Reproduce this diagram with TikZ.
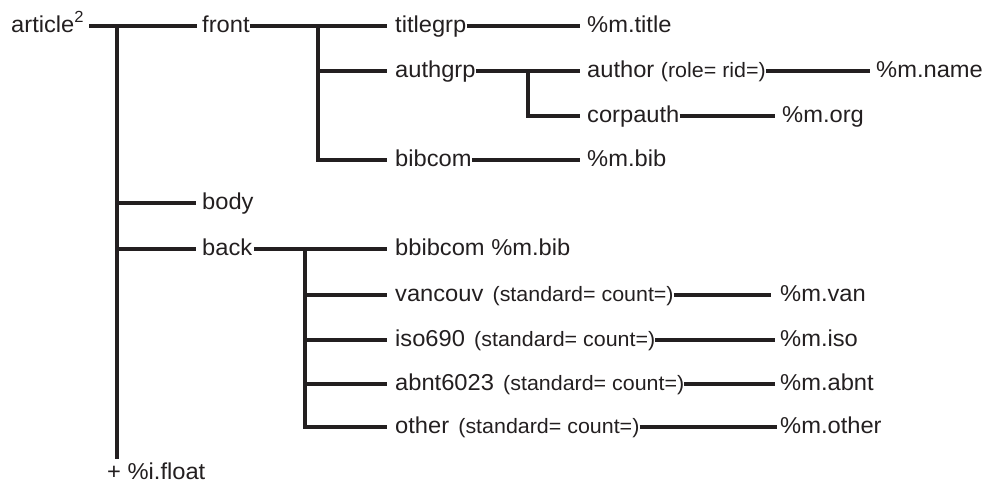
\documentclass[tikz,border=0pt]{standalone}
\usepackage{fontspec}
\setmainfont{Liberation Sans}[FakeStretch=1.03]
\definecolor{ink}{RGB}{35,31,32}
\newcommand{\attr}[1]{{\fontsize{20.8}{24}\selectfont #1}}
\begin{document}
\begin{tikzpicture}[x=1pt,y=-1pt,
  lbl/.style={anchor=west, inner sep=0pt, text height=16.5pt, text depth=4.5pt, font=\fontsize{23}{27}\selectfont, text=ink},
  link/.style={line width=3.2pt, draw=ink},
  heavy/.style={line width=4.6pt, draw=ink}]
\useasboundingbox (0,0) rectangle (982,483);
% nodes
\node[lbl] (article) at (11,26) {article\textsuperscript{2}};
\node[lbl] (front) at (202,26) {front};
\node[lbl] (body) at (202,203) {body};
\node[lbl] (back) at (202,249) {back};
\node[lbl] (float) at (107,473) {+ \%i.float};
\node[lbl] (titlegrp) at (395,26) {titlegrp};
\node[lbl] (mtitle) at (587,26) {\%m.title};
\node[lbl] (authgrp) at (395,71) {authgrp};
\node[lbl] (author) at (587,71) {author \attr{(role= rid=)}};
\node[lbl] (mname) at (876,71) {\%m.name};
\node[lbl] (corpauth) at (587,116) {corpauth};
\node[lbl] (morg) at (782,116) {\%m.org};
\node[lbl] (bibcom) at (395,160) {bibcom};
\node[lbl] (mbib) at (587,160) {\%m.bib};
\node[lbl] (bbibcom) at (395,249) {bbibcom \%m.bib};
\node[lbl] (vancouv) at (395,295) {vancouv\hspace{0.4em}\attr{(standard= count=)}};
\node[lbl] (mvan) at (780,295) {\%m.van};
\node[lbl] (iso) at (395,340) {iso690\hspace{0.4em}\attr{(standard= count=)}};
\node[lbl] (miso) at (780,340) {\%m.iso};
\node[lbl] (abnt) at (395,384) {abnt6023\hspace{0.4em}\attr{(standard= count=)}};
\node[lbl] (mabnt) at (780,384) {\%m.abnt};
\node[lbl] (other) at (395,427) {other\hspace{0.4em}\attr{(standard= count=)}};
\node[lbl] (mother) at (780,427) {\%m.other};
% junctions
\coordinate (j0) at (117,26);
\coordinate (j1) at (318,26);
\coordinate (j2) at (528,71);
\coordinate (j3) at (305,249);
% root
\draw[link, shorten <=5pt, shorten >=5pt] (article.east) -- (front.west);
\draw[heavy, shorten >=3pt] (j0) -- (j0 |- float.north);
\draw[link, shorten >=6pt] (j0) |- (body.west);
\draw[heavy, shorten >=6pt] (j0) |- (back.west);
% front
\draw[link, shorten >=8pt] (front.east) -- (titlegrp.west);
\draw[link, shorten >=8pt] (j1) |- (authgrp.west);
\draw[link, shorten >=8pt] (j1) |- (bibcom.west);
\draw[link, shorten >=7pt] (titlegrp.east) -- (mtitle.west);
\draw[link, shorten >=7pt] (authgrp.east) -- (author.west);
\draw[link, shorten >=7pt] (j2) |- (corpauth.west);
\draw[heavy, shorten >=6pt] (author.east) -- (mname.west);
\draw[link, shorten >=7pt] (corpauth.east) -- (morg.west);
\draw[link, shorten >=7pt] (bibcom.east) -- (mbib.west);
% back
\draw[link, shorten <=2pt, shorten >=8pt] (back.east) -- (bbibcom.west);
\draw[link, shorten >=8pt] (j3) |- (vancouv.west);
\draw[heavy, shorten >=8pt] (j3) |- (iso.west);
\draw[link, shorten >=8pt] (j3) |- (abnt.west);
\draw[link, shorten >=8pt] (j3) |- (other.west);
\draw[link, shorten >=9pt] (vancouv.east) -- (mvan.west);
\draw[heavy, shorten >=5pt] (iso.east) -- (miso.west);
\draw[link, shorten >=5pt] (abnt.east) -- (mabnt.west);
\draw[link, shorten >=3pt] (other.east) -- (mother.west);
\end{tikzpicture}
\end{document}
